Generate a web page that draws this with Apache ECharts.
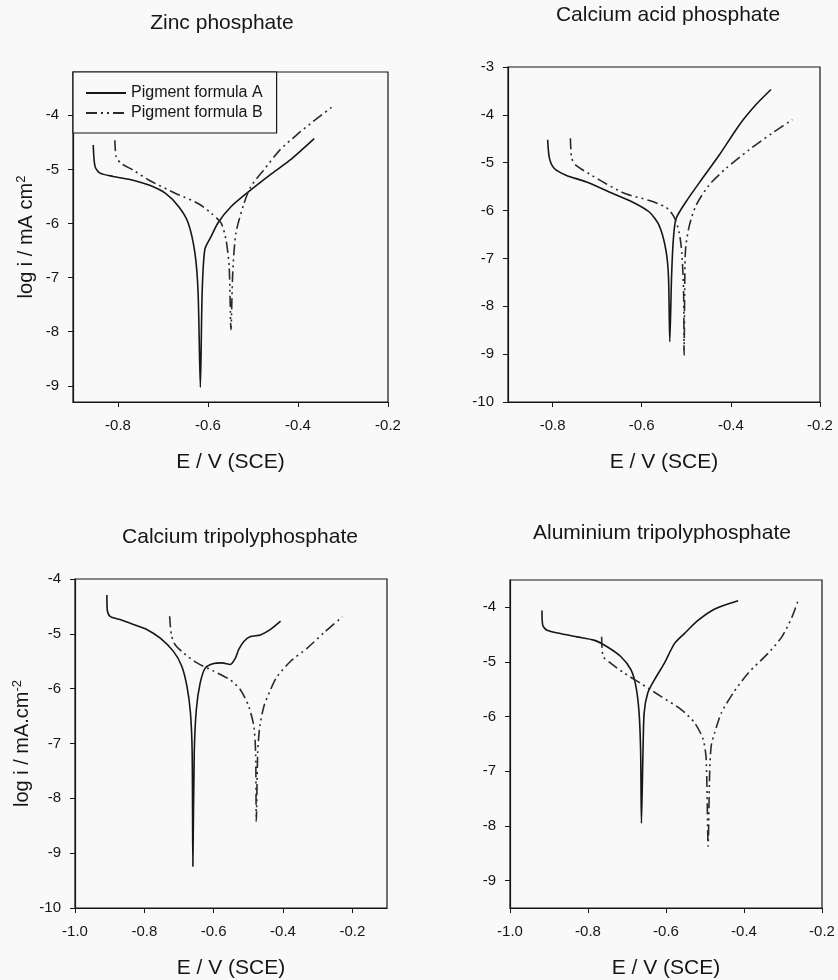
<!DOCTYPE html>
<html>
<head>
<meta charset="utf-8">
<title>Polarisation curves</title>
<script src="https://cdn.jsdelivr.net/npm/echarts@6/dist/echarts.min.js"></script>
<style>
html, body { margin: 0; padding: 0; background: #f9f9f9; }
#chart { width: 838px; height: 980px; }
</style>
</head>
<body>
<div id="chart"></div>
<script>
// [E (V vs SCE), log i]
const zincA = [[-0.855,-4.55],[-0.851,-4.95],[-0.840,-5.07],[-0.811,-5.13],[-0.767,-5.20],[-0.731,-5.29],[-0.695,-5.44],[-0.665,-5.69],[-0.644,-5.99],[-0.629,-6.55],[-0.622,-7.28],[-0.617,-9.03],[-0.613,-7.28],[-0.607,-6.48],[-0.593,-6.24],[-0.578,-5.99],[-0.549,-5.69],[-0.505,-5.38],[-0.462,-5.10],[-0.418,-4.83],[-0.364,-4.43]]
const zincB = [[-0.807,-4.46],[-0.804,-4.77],[-0.793,-4.89],[-0.767,-5.01],[-0.731,-5.20],[-0.673,-5.44],[-0.622,-5.63],[-0.593,-5.81],[-0.571,-5.99],[-0.560,-6.30],[-0.553,-6.79],[-0.549,-7.96],[-0.545,-6.91],[-0.538,-6.18],[-0.520,-5.63],[-0.505,-5.32],[-0.476,-5.01],[-0.440,-4.64],[-0.404,-4.37],[-0.367,-4.12],[-0.320,-3.82]]

const acidA = [[-0.811,-4.52],[-0.807,-4.91],[-0.796,-5.12],[-0.770,-5.26],[-0.725,-5.40],[-0.673,-5.61],[-0.621,-5.82],[-0.583,-6.03],[-0.561,-6.31],[-0.546,-6.81],[-0.540,-7.37],[-0.537,-8.74],[-0.533,-7.37],[-0.529,-6.60],[-0.523,-6.17],[-0.501,-5.82],[-0.464,-5.33],[-0.426,-4.84],[-0.381,-4.21],[-0.344,-3.79],[-0.310,-3.47]]
const acidB = [[-0.760,-4.49],[-0.757,-4.91],[-0.748,-5.05],[-0.718,-5.23],[-0.680,-5.44],[-0.636,-5.65],[-0.583,-5.79],[-0.546,-5.93],[-0.527,-6.14],[-0.516,-6.46],[-0.510,-6.88],[-0.506,-7.72],[-0.505,-9.02],[-0.503,-7.16],[-0.501,-6.74],[-0.493,-6.31],[-0.478,-5.89],[-0.449,-5.47],[-0.411,-5.12],[-0.359,-4.73],[-0.307,-4.38],[-0.262,-4.10]]

const caTriA = [[-0.908,-4.29],[-0.907,-4.56],[-0.899,-4.68],[-0.870,-4.74],[-0.831,-4.83],[-0.793,-4.92],[-0.754,-5.08],[-0.716,-5.32],[-0.692,-5.59],[-0.677,-5.96],[-0.667,-6.44],[-0.662,-7.17],[-0.660,-9.24],[-0.656,-7.17],[-0.650,-6.38],[-0.639,-5.90],[-0.624,-5.62],[-0.600,-5.54],[-0.576,-5.53],[-0.552,-5.56],[-0.537,-5.44],[-0.528,-5.29],[-0.513,-5.14],[-0.494,-5.05],[-0.465,-5.02],[-0.436,-4.92],[-0.407,-4.77]]
const caTriB = [[-0.727,-4.68],[-0.722,-5.02],[-0.711,-5.20],[-0.687,-5.35],[-0.648,-5.53],[-0.600,-5.68],[-0.552,-5.84],[-0.523,-6.02],[-0.499,-6.32],[-0.484,-6.69],[-0.479,-7.17],[-0.477,-8.42],[-0.473,-7.17],[-0.467,-6.69],[-0.455,-6.32],[-0.436,-6.02],[-0.417,-5.78],[-0.378,-5.50],[-0.330,-5.26],[-0.282,-4.98],[-0.229,-4.69]]

const alTriA = [[-0.918,-4.06],[-0.916,-4.33],[-0.905,-4.42],[-0.871,-4.48],[-0.828,-4.54],[-0.785,-4.60],[-0.751,-4.72],[-0.716,-4.90],[-0.690,-5.14],[-0.677,-5.45],[-0.669,-5.93],[-0.665,-6.65],[-0.663,-7.95],[-0.659,-6.65],[-0.656,-5.93],[-0.647,-5.57],[-0.630,-5.33],[-0.604,-5.02],[-0.578,-4.66],[-0.553,-4.48],[-0.518,-4.24],[-0.475,-4.03],[-0.415,-3.88]]
const alTriB = [[-0.765,-4.54],[-0.761,-4.90],[-0.742,-5.02],[-0.708,-5.20],[-0.665,-5.39],[-0.613,-5.63],[-0.561,-5.87],[-0.527,-6.11],[-0.505,-6.41],[-0.497,-6.77],[-0.492,-8.37],[-0.488,-7.01],[-0.484,-6.53],[-0.475,-6.29],[-0.458,-5.93],[-0.428,-5.57],[-0.389,-5.20],[-0.338,-4.84],[-0.303,-4.54],[-0.277,-4.18],[-0.260,-3.85]]

const titles = ['Zinc phosphate', 'Calcium acid phosphate', 'Calcium tripolyphosphate', 'Aluminium tripolyphosphate']
const seriesNames = ['Pigment formula A', 'Pigment formula B']

// tick labels
const zincXTicks = [-0.8, -0.6, -0.4, -0.2]
const zincYTicks = [-4, -5, -6, -7, -8, -9]
const acidXTicks = [-0.8, -0.6, -0.4, -0.2]
const acidYTicks = [-3, -4, -5, -6, -7, -8, -9, -10]
const caTriXTicks = [-1.0, -0.8, -0.6, -0.4, -0.2]
const caTriYTicks = [-4, -5, -6, -7, -8, -9, -10]
const alTriXTicks = [-1.0, -0.8, -0.6, -0.4, -0.2]
const alTriYTicks = [-4, -5, -6, -7, -8, -9]

const ink = '#161616'
const font = 'Liberation Sans, Arial, sans-serif'

const grids = [
  { left: 73, top: 72, width: 315, height: 330 },
  { left: 508, top: 67, width: 312, height: 335 },
  { left: 75, top: 579, width: 312, height: 329 },
  { left: 510, top: 580, width: 312, height: 330 }
].map(g => ({ ...g, show: true, borderColor: ink, borderWidth: 1.2, backgroundColor: 'transparent' }))

const xAxisFor = (i, min, max, ticks, nameGap) => ({
  type: 'value', gridIndex: i, min, max,
  name: 'E / V (SCE)', nameLocation: 'middle', nameGap,
  nameTextStyle: { fontSize: 21, color: ink, fontFamily: font },
  axisLine: { show: true, onZero: false, lineStyle: { color: ink, width: 1.2 } },
  axisTick: { show: true, length: 5, customValues: ticks, lineStyle: { color: ink } },
  axisLabel: { customValues: ticks, fontSize: 15, color: ink, fontFamily: font, margin: 16,
    formatter: v => v.toFixed(1) },
  splitLine: { show: false }
})

const yAxisFor = (i, min, max, ticks, name, nameGap) => ({
  type: 'value', gridIndex: i, min, max,
  name, nameLocation: 'middle', nameGap,
  nameTextStyle: { fontSize: 20, color: ink, fontFamily: font,
    rich: { sup: { fontSize: 13, color: ink, fontFamily: font, verticalAlign: 'top', padding: [0, 0, 9, 0] } } },
  axisLine: { show: true, onZero: false, lineStyle: { color: ink, width: 1.2 } },
  axisTick: { show: true, length: 5, customValues: ticks, lineStyle: { color: ink } },
  axisLabel: { customValues: ticks, fontSize: 15, color: ink, fontFamily: font, margin: 14,
    formatter: v => v.toFixed(0) },
  splitLine: { show: false }
})

const lineA = { color: ink, width: 1.6, type: 'solid' }
const lineB = { color: '#2a2a2a', width: 1.6, type: [11, 4, 2, 4, 2, 4] }

const makeSeries = (i, a, b) => [
  { name: seriesNames[0], type: 'line', xAxisIndex: i, yAxisIndex: i, data: a,
    symbol: 'none', smooth: 0.25, lineStyle: lineA, itemStyle: { color: ink } },
  { name: seriesNames[1], type: 'line', xAxisIndex: i, yAxisIndex: i, data: b,
    symbol: 'none', smooth: 0.25, lineStyle: lineB, itemStyle: { color: '#2a2a2a' } }
]

const titlePos = [[222, 13], [668, 5], [240, 527], [662, 523]]

const option = {
  backgroundColor: '#f9f9f9',
  animation: false,
  title: titles.map((t, i) => ({
    text: t, left: titlePos[i][0], top: titlePos[i][1], textAlign: 'center', padding: 0,
    textStyle: { fontSize: 21, fontWeight: 'normal', color: ink, fontFamily: font }
  })),
  legend: {
    data: seriesNames, orient: 'vertical', left: 73, top: 72,
    padding: [13, 14, 12, 12], itemGap: 4, itemWidth: 40, itemHeight: 14,
    borderColor: ink, borderWidth: 1.2, backgroundColor: '#f9f9f9',
    itemStyle: { opacity: 0 },
    textStyle: { fontSize: 16, color: ink, fontFamily: font }
  },
  grid: grids,
  xAxis: [
    xAxisFor(0, -0.9, -0.2, zincXTicks, 50),
    xAxisFor(1, -0.9, -0.2, acidXTicks, 50),
    xAxisFor(2, -1.0, -0.1, caTriXTicks, 50),
    xAxisFor(3, -1.0, -0.2, alTriXTicks, 50)
  ],
  yAxis: [
    yAxisFor(0, -9.3, -3.2, zincYTicks, 'log i / mA cm{sup|2}', 36),
    yAxisFor(1, -10, -3, acidYTicks, '', 40),
    yAxisFor(2, -10, -4, caTriYTicks, 'log i / mA.cm{sup|-2}', 42),
    yAxisFor(3, -9.5, -3.5, alTriYTicks, '', 40)
  ],
  series: [
    ...makeSeries(0, zincA, zincB),
    ...makeSeries(1, acidA, acidB),
    ...makeSeries(2, caTriA, caTriB),
    ...makeSeries(3, alTriA, alTriB)
  ]
}

const chart = echarts.init(document.getElementById('chart'))
chart.setOption(option)
</script>
</body>
</html>
